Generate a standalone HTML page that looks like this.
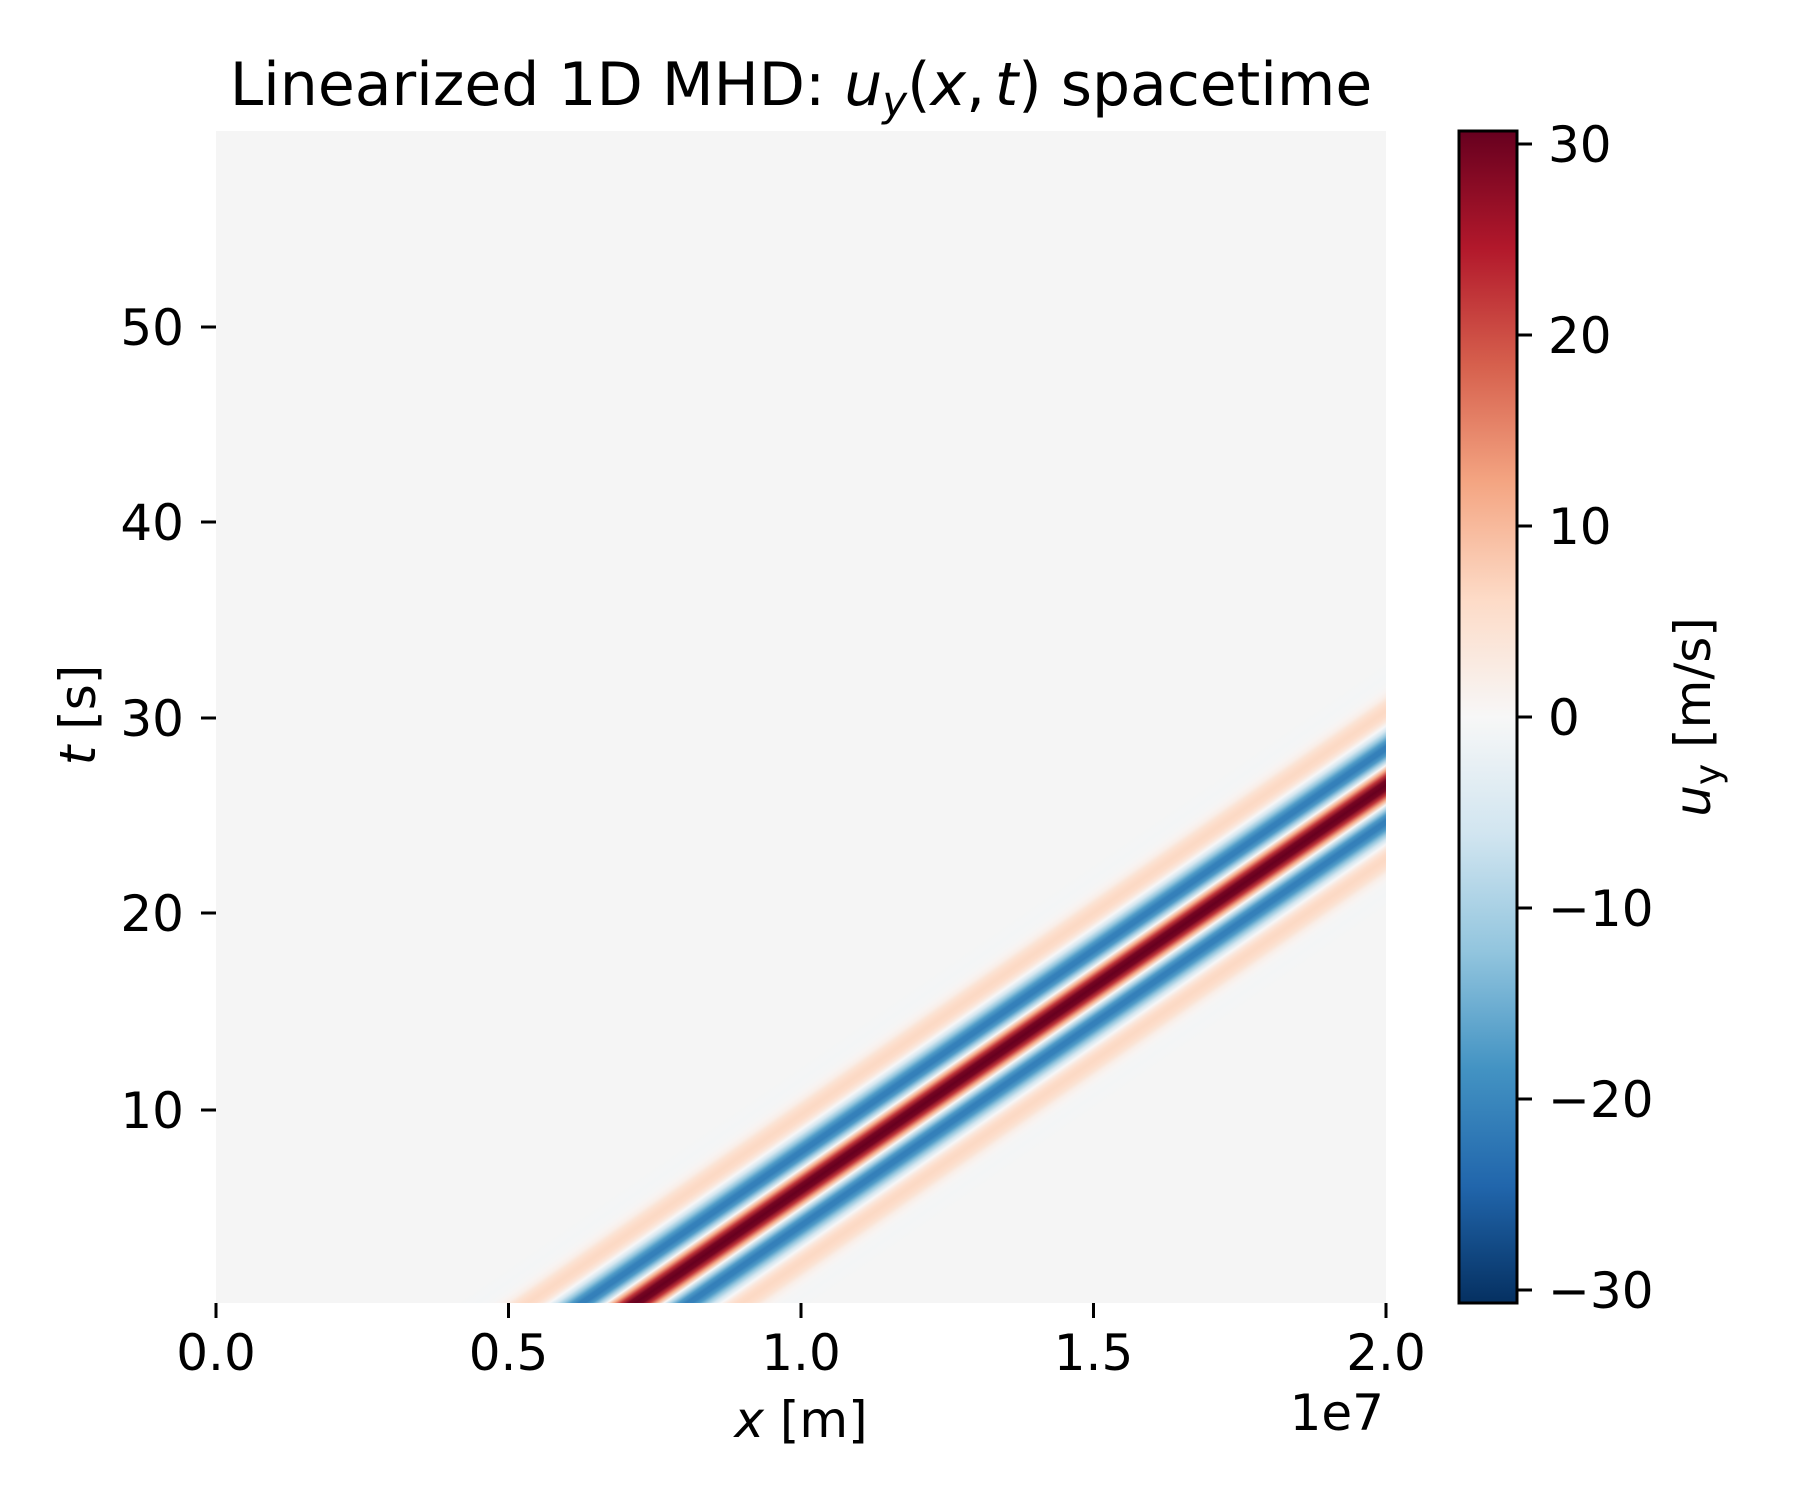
<!DOCTYPE html>
<html><head><meta charset="utf-8"><style>
html,body{margin:0;padding:0;background:#fff}
svg{display:block}
text{font-family:"DejaVu Sans","Liberation Sans",sans-serif;fill:#000}
</style></head><body>
<svg width="1800" height="1500" viewBox="0 0 1800 1500" xmlns="http://www.w3.org/2000/svg">
<defs>
<linearGradient id="wave" gradientUnits="userSpaceOnUse" x1="-178.7" y1="0" x2="178.7" y2="0" gradientTransform="translate(631,1306) skewX(-55.4)">
<stop offset="0" stop-color="#f5f5f5"/>
<stop offset="0.06" stop-color="#f3f5f6"/>
<stop offset="0.10" stop-color="#f5f5f5"/>
<stop offset="0.12" stop-color="#f8f3f1"/>
<stop offset="0.14" stop-color="#f9eee8"/>
<stop offset="0.16" stop-color="#fbe3d4"/>
<stop offset="0.18" stop-color="#fddcc9"/>
<stop offset="0.20" stop-color="#fcd9c4"/>
<stop offset="0.22" stop-color="#fddcc9"/>
<stop offset="0.24" stop-color="#fbe6da"/>
<stop offset="0.26" stop-color="#f6f6f7"/>
<stop offset="0.28" stop-color="#d3e6f0"/>
<stop offset="0.30" stop-color="#97c8df"/>
<stop offset="0.32" stop-color="#509cc8"/>
<stop offset="0.34" stop-color="#3581ba"/>
<stop offset="0.36" stop-color="#347fb9"/>
<stop offset="0.38" stop-color="#4e9ac7"/>
<stop offset="0.40" stop-color="#a8d0e4"/>
<stop offset="0.42" stop-color="#f7f6f5"/>
<stop offset="0.44" stop-color="#f5aa88"/>
<stop offset="0.46" stop-color="#c03539"/>
<stop offset="0.48" stop-color="#770522"/>
<stop offset="0.50" stop-color="#67001f"/>
<stop offset="0.52" stop-color="#770522"/>
<stop offset="0.54" stop-color="#c03539"/>
<stop offset="0.56" stop-color="#f5aa88"/>
<stop offset="0.58" stop-color="#f7f6f5"/>
<stop offset="0.60" stop-color="#a8d0e4"/>
<stop offset="0.62" stop-color="#4e9ac7"/>
<stop offset="0.64" stop-color="#347fb9"/>
<stop offset="0.66" stop-color="#3581ba"/>
<stop offset="0.68" stop-color="#509cc8"/>
<stop offset="0.70" stop-color="#97c8df"/>
<stop offset="0.72" stop-color="#d3e6f0"/>
<stop offset="0.74" stop-color="#f6f6f7"/>
<stop offset="0.76" stop-color="#fbe6da"/>
<stop offset="0.78" stop-color="#fddcc9"/>
<stop offset="0.80" stop-color="#fcd9c4"/>
<stop offset="0.82" stop-color="#fddcc9"/>
<stop offset="0.84" stop-color="#fbe3d4"/>
<stop offset="0.86" stop-color="#f9eee8"/>
<stop offset="0.88" stop-color="#f8f3f1"/>
<stop offset="0.90" stop-color="#f5f5f5"/>
<stop offset="0.94" stop-color="#f3f5f6"/>
<stop offset="1" stop-color="#f5f5f5"/>
</linearGradient>
<linearGradient id="cbar" x1="0" y1="0" x2="0" y2="1">
<stop offset="0" stop-color="#67001f"/>
<stop offset="0.1" stop-color="#b2182b"/>
<stop offset="0.2" stop-color="#d6604d"/>
<stop offset="0.3" stop-color="#f4a582"/>
<stop offset="0.4" stop-color="#fddbc7"/>
<stop offset="0.5" stop-color="#f7f7f7"/>
<stop offset="0.6" stop-color="#d1e5f0"/>
<stop offset="0.7" stop-color="#92c5de"/>
<stop offset="0.8" stop-color="#4393c3"/>
<stop offset="0.9" stop-color="#2166ac"/>
<stop offset="1" stop-color="#053061"/>
</linearGradient>
</defs>

<!-- title -->
<text x="801" y="105" font-size="60" text-anchor="middle">Linearized 1D MHD: <tspan font-style="italic">u</tspan><tspan font-style="italic" font-size="42" dy="11">y</tspan><tspan dy="-11">(</tspan><tspan font-style="italic">x</tspan>,<tspan font-size="30"> </tspan><tspan font-style="italic">t</tspan>) spacetime</text>

<!-- plot -->
<rect x="216" y="131" width="1170" height="1172" fill="url(#wave)"/>

<!-- x ticks -->
<g stroke="#000" stroke-width="3">
<line x1="216" y1="1303" x2="216" y2="1318"/>
<line x1="508.5" y1="1303" x2="508.5" y2="1318"/>
<line x1="801" y1="1303" x2="801" y2="1318"/>
<line x1="1093.5" y1="1303" x2="1093.5" y2="1318"/>
<line x1="1386" y1="1303" x2="1386" y2="1318"/>
</g>
<g font-size="50" text-anchor="middle">
<text x="216" y="1370">0.0</text>
<text x="508.5" y="1370">0.5</text>
<text x="801" y="1370">1.0</text>
<text x="1093.5" y="1370">1.5</text>
<text x="1386" y="1370">2.0</text>
</g>
<text x="801" y="1437" font-size="50" text-anchor="middle"><tspan font-style="italic">x</tspan> [m]</text>
<text x="1384" y="1430" font-size="50" text-anchor="end">1e7</text>

<!-- y ticks -->
<g stroke="#000" stroke-width="3">
<line x1="201" y1="327" x2="216" y2="327"/>
<line x1="201" y1="522" x2="216" y2="522"/>
<line x1="201" y1="718" x2="216" y2="718"/>
<line x1="201" y1="913" x2="216" y2="913"/>
<line x1="201" y1="1110" x2="216" y2="1110"/>
</g>
<g font-size="50" text-anchor="end">
<text x="184" y="345">50</text>
<text x="184" y="540">40</text>
<text x="184" y="736">30</text>
<text x="184" y="931">20</text>
<text x="184" y="1128">10</text>
</g>
<text transform="translate(95,715) rotate(-90)" font-size="50" text-anchor="middle"><tspan font-style="italic">t</tspan> [s]</text>

<!-- colorbar -->
<rect x="1459" y="131" width="58" height="1172" fill="url(#cbar)" stroke="#000" stroke-width="3"/>
<g stroke="#000" stroke-width="3">
<line x1="1517" y1="144" x2="1532" y2="144"/>
<line x1="1517" y1="335" x2="1532" y2="335"/>
<line x1="1517" y1="526" x2="1532" y2="526"/>
<line x1="1517" y1="717" x2="1532" y2="717"/>
<line x1="1517" y1="908" x2="1532" y2="908"/>
<line x1="1517" y1="1099" x2="1532" y2="1099"/>
<line x1="1517" y1="1290" x2="1532" y2="1290"/>
</g>
<g font-size="50">
<text x="1548" y="162">30</text>
<text x="1548" y="353">20</text>
<text x="1548" y="544">10</text>
<text x="1548" y="735">0</text>
<text x="1548" y="926">−10</text>
<text x="1548" y="1117">−20</text>
<text x="1548" y="1308">−30</text>
</g>
<text transform="translate(1710,717) rotate(-90)" font-size="50" text-anchor="middle"><tspan font-style="italic">u</tspan><tspan font-size="36" dy="10">y</tspan><tspan dy="-10"> [m/s]</tspan></text>
</svg>
</body></html>
